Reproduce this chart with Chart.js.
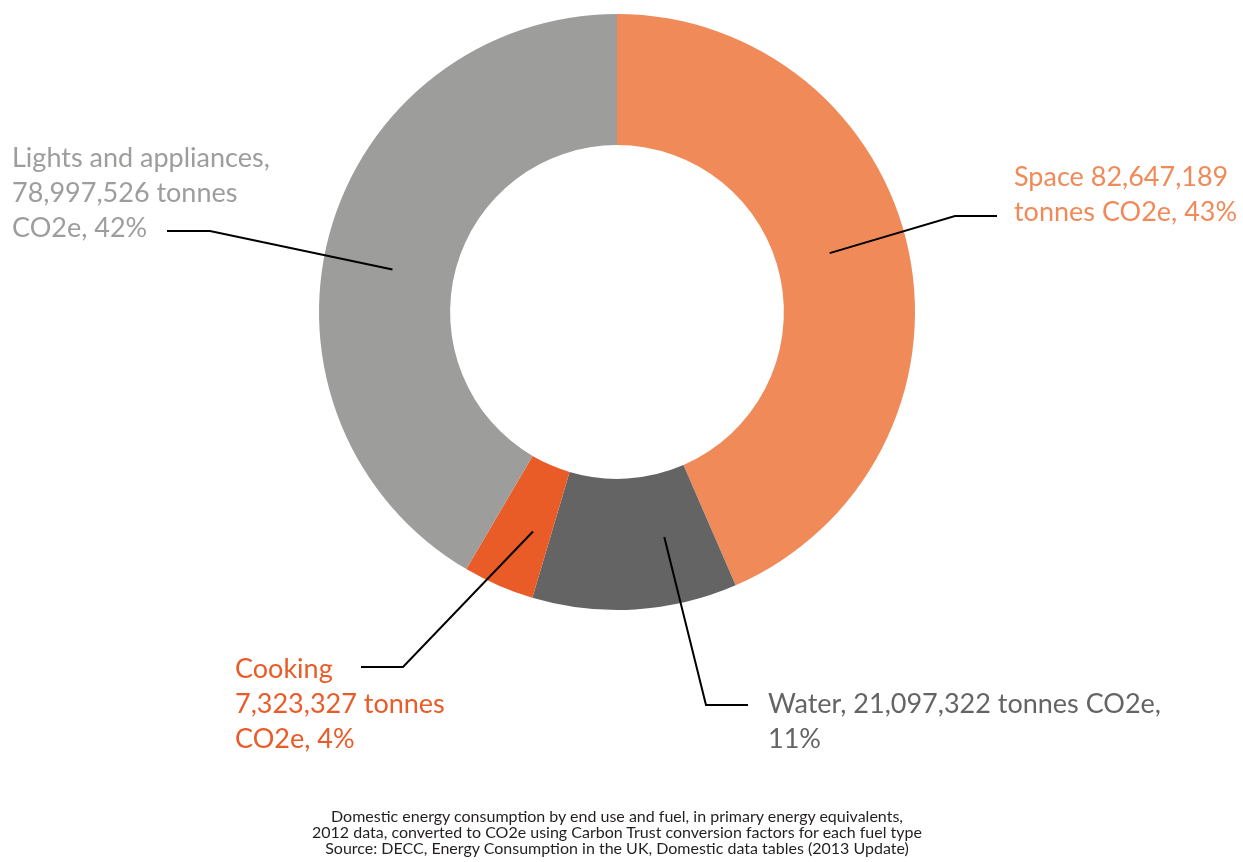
<!DOCTYPE html>
<html lang="en">
<head>
  <meta charset="UTF-8" />
  <title>Domestic CO2e by end use</title>
  <script src="https://cdn.jsdelivr.net/npm/chart.js"></script>
  <style>
    html, body { margin: 0; padding: 0; background: #fff; }
    #wrap { position: relative; width: 1243px; height: 862px; }
    #note {
      position: absolute; left: 0; width: 1234px; top: 808px;
      text-align: center; font: 16px Lato, sans-serif; line-height: 16px; color: #231f20;
    }
  </style>
</head>
<body>
<div id="wrap">
  <canvas id="chart"></canvas>
  <div id="note">
    Domestic energy consumption by end use and fuel, in primary energy equivalents,<br>
    2012 data, converted to CO2e using Carbon Trust conversion factors for each fuel type<br>
    Source: DECC, Energy Consumption in the UK, Domestic data tables (2013 Update)
  </div>
</div>

<script>
// data ------------------------------------------------------
const categories   = ['Space', 'Water', 'Cooking', 'Lights and appliances'];
const tonnes       = [82647189, 21097322, 7323327, 78997526];
const shares       = [43, 11, 4, 42];          // % as printed on the chart
const sliceColours = ['#F08A59', '#646464', '#E95B27', '#9D9D9C'];

const fmt = n => n.toLocaleString('en-GB');

// label wording, wrapped the same way as the original
const labelLines = [
  i => [`${categories[i]} ${fmt(tonnes[i])}`, `tonnes CO2e, ${shares[i]}%`],
  i => [`${categories[i]}, ${fmt(tonnes[i])} tonnes CO2e,`, `${shares[i]}%`],
  i => [categories[i], `${fmt(tonnes[i])} tonnes`, `CO2e, ${shares[i]}%`],
  i => [`${categories[i]},`, `${fmt(tonnes[i])} tonnes`, `CO2e, ${shares[i]}%`],
];

// callout layout (where the leader lines bend and the text sits)
const callouts = [
  { at: [0.476, 0.41], knee: [955, 216], end: [997, 216], x: 1014, y: 186, colour: '#F08A59' },
  { at: [0.29, 0.48],  knee: [706, 705], end: [748, 705], x: 768,  y: 713, colour: '#646464' },
  { at: [0.32, 0.52],  knee: [403, 667], end: [361, 667], x: 235,  y: 678, colour: '#E95B27' },
  { at: [0.47, 0.47],  knee: [210, 231], end: [167, 231], x: 12,   y: 167, colour: '#9D9D9C' },
];
const lineGap = 35;

// leader lines + labels ------------------------------------
const calloutPlugin = {
  id: 'callouts',
  afterDatasetsDraw(chart) {
    const ctx = chart.ctx;
    const arcs = chart.getDatasetMeta(0).data;
    ctx.save();
    arcs.forEach((arc, i) => {
      const c = callouts[i];
      const p = arc.getProps(['x', 'y', 'startAngle', 'endAngle', 'innerRadius', 'outerRadius'], true);
      const a = p.startAngle + c.at[0] * (p.endAngle - p.startAngle);
      const r = p.innerRadius + c.at[1] * (p.outerRadius - p.innerRadius);

      ctx.beginPath();
      ctx.moveTo(p.x + r * Math.cos(a), p.y + r * Math.sin(a));
      ctx.lineTo(c.knee[0], c.knee[1]);
      ctx.lineTo(c.end[0], c.end[1]);
      ctx.strokeStyle = '#000';
      ctx.lineWidth = 2;
      ctx.stroke();

      ctx.fillStyle = c.colour;
      ctx.font = '27px Lato, sans-serif';
      ctx.textAlign = 'left';
      ctx.textBaseline = 'alphabetic';
      labelLines[i](i).forEach((t, k) => ctx.fillText(t, c.x, c.y + k * lineGap));
    });
    ctx.restore();
  }
};

new Chart(document.getElementById('chart'), {
  type: 'doughnut',
  data: {
    labels: categories,
    datasets: [{
      data: tonnes,
      backgroundColor: sliceColours,
      borderWidth: 0
    }]
  },
  options: {
    responsive: true,
    maintainAspectRatio: false,
    animation: false,
    cutout: '56%',
    layout: { padding: { top: 14, bottom: 252, left: 0, right: 9 } },
    plugins: { legend: { display: false }, tooltip: { enabled: false } }
  },
  plugins: [calloutPlugin]
});
</script>
</body>
</html>
